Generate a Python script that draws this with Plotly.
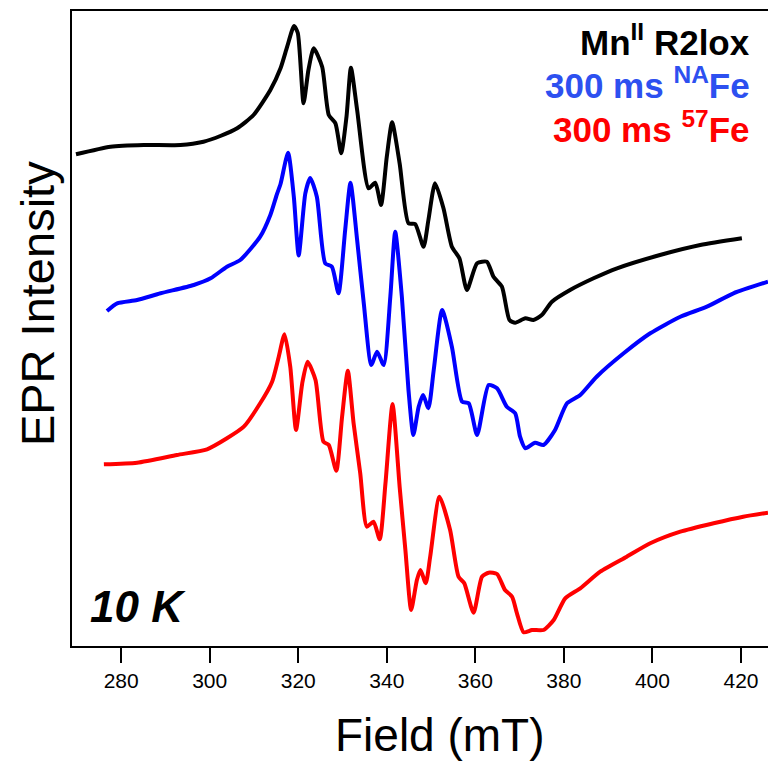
import plotly.graph_objects as go

# Field (mT) and intensity (a.u.)
field_mn = [269.8, 277.6, 285.1, 293.4, 298.6, 302.4, 306.2, 309.9, 313.7, 316.0, 317.5, 319.05, 319.9,
            321.2, 322.3, 323.5, 325.4, 326.9, 328.4, 329.7, 330.9, 331.9, 333.3, 335.9, 337.4, 338.7,
            340.0, 341.2, 342.9, 344.9, 346.4, 348.3, 349.4, 350.9, 352.8, 354.7, 356.4, 358.1, 360.4,
            362.6, 364.1, 366.0, 367.7, 369.0, 371.3, 373.1, 375.0, 377.3, 381.4, 386.7, 392.0, 401.7,
            410.8, 420.2]
int_mn = [491.7, 499.3, 501, 501, 504.3, 510, 517.7, 531, 556, 577.7, 599.3, 620, 613,
          542.7, 576, 597.7, 579.3, 531, 522.7, 492.7, 529.3, 578.3, 536, 457.7, 463.3, 441,
          489.3, 523.7, 482.7, 422.7, 422, 399.3, 426, 462.7, 437.7, 399.3, 387.7, 356, 382.7,
          384.3, 369.3, 359.3, 326, 323.3, 327.7, 326, 331, 344.3, 356, 367.7, 377.7, 391,
          401, 407.7]

field_na = [276.8, 279.1, 283.6, 288.9, 296.4, 300.2, 303.9, 306.9, 311.4, 313.7, 315.2, 316.0, 317.7,
            319.0, 320.1, 321.6, 322.7, 324.2, 326.1, 327.6, 329.1, 330.6, 331.8, 333.3, 334.8, 336.5,
            337.8, 339.3, 340.8, 341.9, 343.4, 344.9, 346.0, 347.2, 348.2, 349.4, 350.6, 352.5, 354.7,
            357.0, 358.5, 360.4, 363.0, 364.9, 367.1, 369.0, 370.1, 371.3, 373.5, 375.4, 378.0, 380.7,
            383.7, 387.4, 393.5, 399.5, 406.3, 412.3, 418.3, 426.1]
int_na = [335, 342.7, 346, 352.7, 361, 367.7, 379.3, 386, 409.3, 431, 452, 462, 493.3,
          449.3, 390.5, 452.7, 468, 449.3, 382.7, 379.3, 352.7, 416, 463.3, 406, 342.7, 281,
          294.3, 281, 349.3, 414.3, 349.3, 256, 211, 239.3, 251, 237.7, 276, 336, 299.3,
          244.3, 242.7, 211, 261, 257.7, 239.3, 232.7, 209.3, 197.7, 203.3, 201, 216, 242.7,
          251, 269.3, 292.7, 312.7, 329.3, 339.3, 352.7, 364.3]

field_57 = [276.1, 283.6, 292.6, 299.4, 303.9, 307.7, 311.4, 314.1, 315.6, 316.9, 318.2, 319.5, 320.9,
            322.1, 323.9, 325.7, 326.9, 328.6, 329.9, 331.2, 332.5, 334.0, 335.5, 337.0, 338.4, 339.7,
            341.3, 342.9, 344.2, 345.5, 346.8, 347.6, 348.8, 349.8, 351.9, 354.3, 356.2, 357.5, 359.6,
            361.5, 363.0, 364.9, 366.7, 368.3, 369.4, 370.9, 372.8, 375.4, 377.7, 380.3, 383.7, 388.2,
            394.2, 399.5, 406.3, 413.8, 420.5, 426.1]
int_57 = [181.7, 183.3, 191, 196.7, 207.7, 219.3, 242.7, 264.3, 289.3, 311.7, 279.3, 216, 262.7,
          284.3, 266, 204.3, 201, 175.3, 229.3, 275.3, 222.7, 172.7, 119.3, 124.3, 106.7, 162.7,
          242, 159.3, 96, 36, 66, 76, 62.7, 89.3, 149.3, 116, 69.3, 62.7, 33.3,
          69.3, 73.3, 72, 56, 49.3, 32.7, 13.7, 16, 16, 26, 47.7, 57.7, 74.3,
          89.3, 102.7, 114.3, 122.7, 129.3, 133.3]

x_ticks = [280, 300, 320, 340, 360, 380, 400, 420]

series = [
    (field_mn, int_mn, "black"),
    (field_na, int_na, "#0000ff"),
    (field_57, int_57, "#ff0000"),
]

fig = go.Figure()
for xs, ys, col in series:
    fig.add_trace(go.Scatter(x=xs, y=ys, mode="lines",
                             line=dict(color=col, width=4, shape="spline", smoothing=0.6),
                             showlegend=False, hoverinfo="skip"))

font_family = "Liberation Sans, Arial, sans-serif"

fig.update_layout(
    width=768, height=761,
    margin=dict(l=72, r=0, t=11, b=115),
    paper_bgcolor="white", plot_bgcolor="white",
    font=dict(family=font_family, color="black"),
    xaxis=dict(range=[268.9, 426.1], tickvals=x_ticks, ticks="outside", ticklen=15, tickwidth=2,
               tickcolor="black", showline=True, linewidth=2, linecolor="black", mirror=True,
               showgrid=False, zeroline=False, tickfont=dict(size=21, family=font_family)),
    yaxis=dict(range=[0, 635], showticklabels=False, ticks="", showline=True, linewidth=2,
               linecolor="black", showgrid=False, zeroline=False),
)

ann = [
    dict(text="EPR Intensity", x=-0.0503, y=0.540, textangle=-90, font=dict(size=47),
         xanchor="center", yanchor="middle"),
    dict(text="Field (mT)", x=0.529, y=-0.140, font=dict(size=46), xanchor="center", yanchor="middle"),
    dict(text="<b><i>10 K</i></b>", x=0.023, y=0.062, font=dict(size=44), xanchor="left", yanchor="middle"),
    dict(text="<b>Mn<sup>II</sup> R2lox</b>", x=0.977, y=0.955, font=dict(size=35, color="black"),
         xanchor="right", yanchor="middle"),
    dict(text="<b>300 ms <sup>NA</sup>Fe</b>", x=0.977, y=0.886, font=dict(size=35, color="#2d50f0"),
         xanchor="right", yanchor="middle"),
    dict(text="<b>300 ms <sup>57</sup>Fe</b>", x=0.977, y=0.817, font=dict(size=35, color="#ff0000"),
         xanchor="right", yanchor="middle"),
]
for a in ann:
    a.update(xref="paper", yref="paper", showarrow=False)
    fig.add_annotation(**a)

fig.write_html("out.html")
